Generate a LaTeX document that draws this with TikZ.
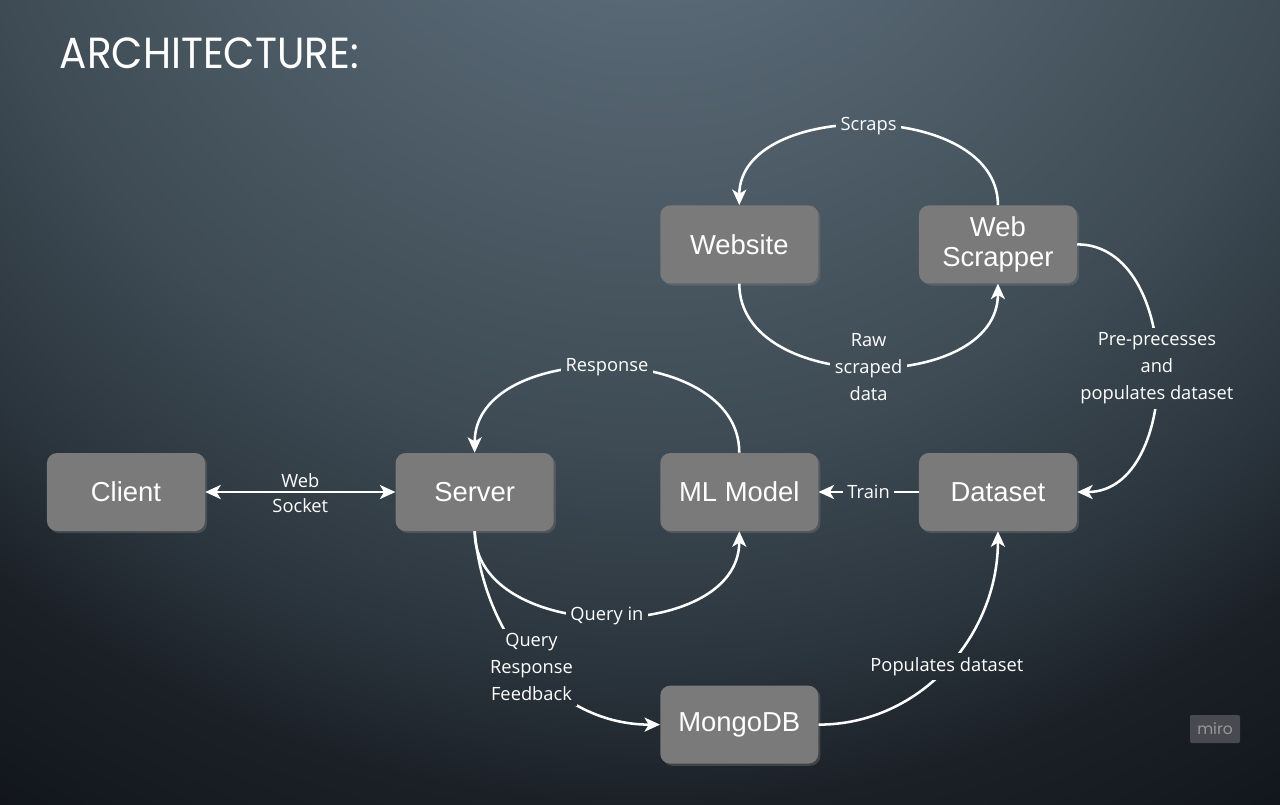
\documentclass[tikz,border=0pt]{standalone}
\usepackage{fontspec}
\usepackage{graphicx}
\usetikzlibrary{arrows.meta, positioning, shadows, calc}
\newfontfamily\boxfont{Liberation Sans}
\newfontfamily\lblfont{Open Sans}
\newfontfamily\headfont{Poppins}
\definecolor{bga}{RGB}{96,113,126}
\definecolor{bgb}{RGB}{88,104,116}
\definecolor{bgc}{RGB}{62,75,84}
\definecolor{bgd}{RGB}{42,52,60}
\definecolor{bge}{RGB}{27,32,39}
\definecolor{bgf}{RGB}{18,22,28}
\definecolor{boxgray}{RGB}{122,122,122}
\definecolor{mirobox}{RGB}{72,74,80}
\definecolor{mirotext}{RGB}{150,152,158}
\pgfdeclareradialshading{slate}{\pgfpoint{0bp}{0bp}}{color(0bp)=(bga); color(4.8bp)=(bgb); color(13.4bp)=(bgc); color(17.7bp)=(bgd); color(20.3bp)=(bge); color(23.8bp)=(bgf); color(50bp)=(bgf)}

\begin{document}
\begin{tikzpicture}[x=0.025cm, y=0.025cm,
    box/.style={rectangle, rounded corners=0.25cm, fill=boxgray, text=white, minimum width=3.95cm, minimum height=1.95cm, align=center, font=\boxfont\fontsize{19.5}{22}\selectfont, drop shadow={opacity=0.35, shadow xshift=1.5pt, shadow yshift=-1.5pt}},
    lbl/.style={text=white, align=center, inner sep=3pt, font=\lblfont\fontsize{13}{19.2}\selectfont, path picture={\shade[shading=slate] (glow) circle (32.5cm);}},
    tag/.style={text=white, inner sep=1.5pt, font=\lblfont\fontsize{13}{19.2}\selectfont},
    link/.style={draw=white, line width=1.8pt, -{Stealth[length=11pt, width=10pt, inset=3pt]}}]
      \useasboundingbox (0,0) rectangle (1280,-804);
      \coordinate (glow) at (650,250);
      \begin{scope}
        \clip (0,0) rectangle (1280,-804);
        \shade[shading=slate] (glow) circle (32.5cm);
      \end{scope}

      \node[anchor=base west, text=white, font=\headfont\fontsize{31}{31}\selectfont] (head) at (55,-68) {\scalebox{0.93}[1]{ARCHITECTURE:}};

      \node[box] (client) at (126,-492) {Client};
      \node[box, right=4.75cm of client] (server) {Server};
      \node[box, right=2.65cm of server] (model) {ML Model};
      \node[box, right=2.5cm of model] (dataset) {Dataset};
      \node[box, above=4.225cm of model] (website) {Website};
      \node[box, above=4.225cm of dataset] (scrapper) {Web\\Scrapper};
      \node[box, below=3.85cm of model] (mongo) {MongoDB};

      \node[fill=mirobox, rounded corners=1pt, minimum width=1.25cm, minimum height=0.7cm, text=mirotext, font=\headfont\fontsize{11}{11}\selectfont] (miro) at (1215,-729) {miro};

      \draw[link] (scrapper.north) to[out=90, in=90, looseness=1.05] node[lbl] {Scraps} (website.north);
      \draw[link] (website.south) to[out=-90, in=-90, looseness=1.1] node[lbl] {Raw\\scraped\\data} (scrapper.south);
      \draw[link] (scrapper.east) to[out=0, in=0, looseness=1.1] node[lbl] {Pre-precesses\\and\\populates dataset} (dataset.east);
      \draw[link] (dataset) -- node[lbl] {Train} (model);
      \draw[link] (model.north) to[out=90, in=90, looseness=1.1] node[lbl] {Response} (server.north);
      \draw[link, {Stealth[length=11pt, width=10pt, inset=3pt]}-{Stealth[length=11pt, width=10pt, inset=3pt]}] (client) -- node[tag, above=0.5pt] {Web} node[tag, below=2pt] {Socket} (server);
      \draw[link] (server.south) to[out=-90, in=-90, looseness=1.1] node[lbl] {Query in} (model.south);
      \draw[link] (server.south) to[out=-85, in=180] node[lbl] {Query\\Response\\Feedback} (mongo.west);
      \draw[link] (mongo.east) to[out=0, in=-90] node[lbl] {Populates dataset} (dataset.south);
    \end{tikzpicture}
\end{document}
